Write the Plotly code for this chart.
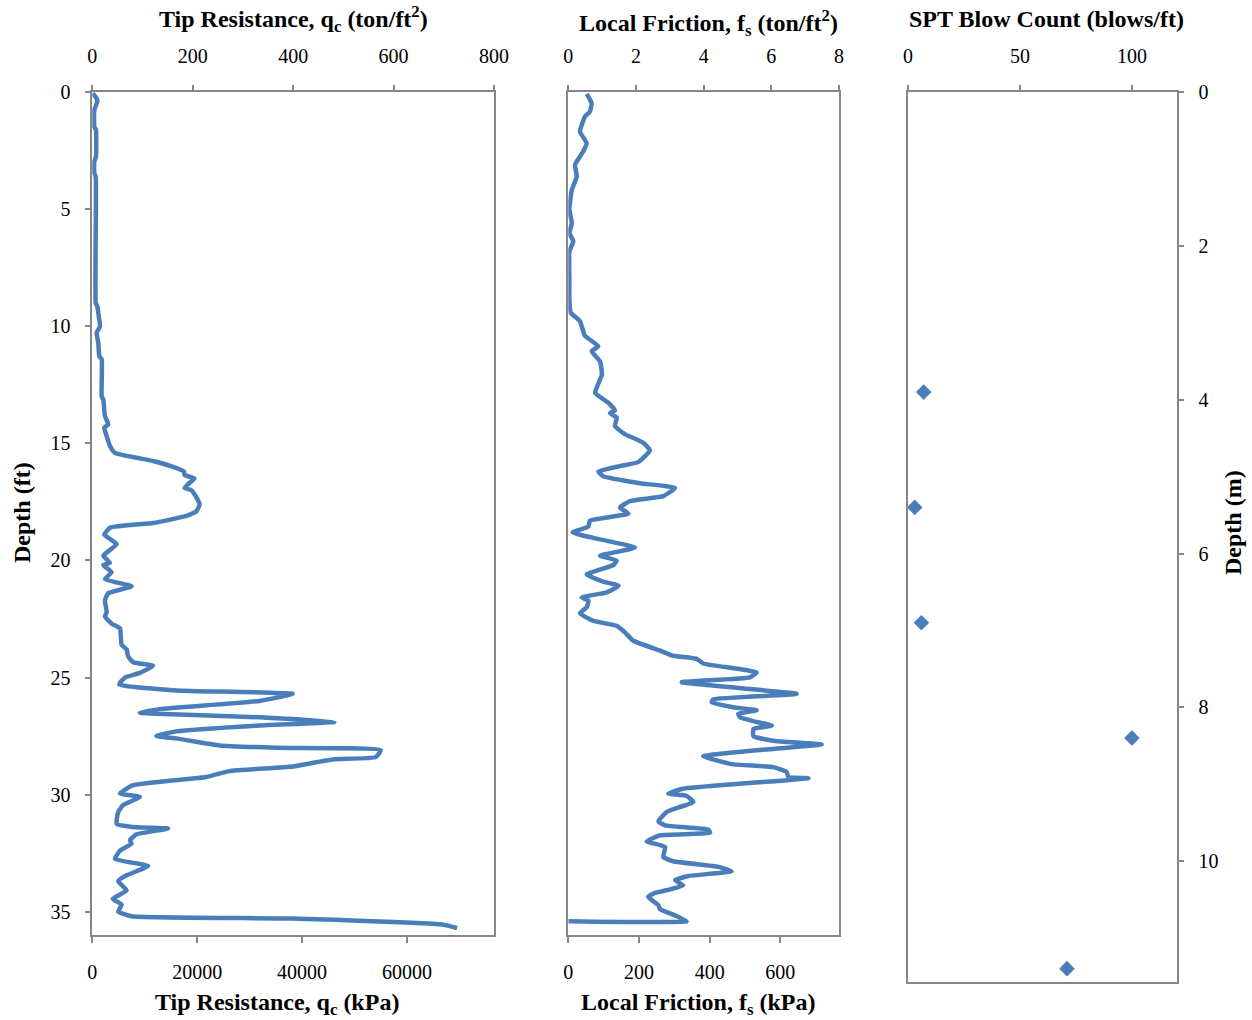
import plotly.graph_objects as go

# ---------------- data ----------------
# CPT tip resistance: depth (ft), qc (kPa)
tip_depth_ft = [0.04, 0.26, 0.4, 0.75, 1.47, 1.6, 2.75, 2.96, 3.45, 3.6, 9.0, 9.14, 9.42, 10.0, 10.28,
                10.7, 11.27, 11.4, 12.98, 13.12, 13.83, 14.19, 14.33, 14.69, 15.11, 15.4, 15.75, 16.0,
                16.2, 16.35, 16.5, 16.75, 16.9, 17.0, 17.3, 17.6, 17.9, 18.1, 18.4, 18.6, 18.9, 19.3,
                19.8, 20.1, 20.2, 20.5, 20.8, 21.1, 21.4, 21.7, 22.2, 22.4, 22.7, 22.9, 23.6, 23.8,
                24.1, 24.35, 24.5, 24.8, 25.0, 25.3, 25.55, 25.7, 26.0, 26.35, 26.5, 26.55, 26.7,
                26.9, 27.05, 27.3, 27.5, 27.6, 27.9, 28.0, 28.1, 28.4, 28.5, 28.8, 29.0, 29.25, 29.6,
                29.95, 30.1, 30.45, 30.75, 31.25, 31.4, 31.45, 31.7, 31.95, 32.1, 32.4, 32.75, 33.05,
                33.45, 33.7, 34.1, 34.45, 34.7, 35.0, 35.2, 35.3, 35.55, 35.7]
tip_qc_kpa = [80, 830, 950, 380, 380, 700, 700, 380, 380, 650, 650, 950, 1140, 1460, 830,
              1140, 1330, 1790, 1790, 2090, 2410, 3040, 2280, 2740, 3370, 4320, 11600, 15400,
              17500, 17600, 19500, 18200, 17600, 18900, 19850, 20470, 19850, 17950, 11600, 3370, 2300, 4640,
              2100, 3370, 2100, 3690, 2410, 7490, 3040, 2410, 2740, 2410, 3690, 5270, 5590, 6540,
              6840, 7790, 11600, 9070, 6220, 5100, 16040, 38200, 31880, 12870, 9070, 12240, 31880,
              46140, 31880, 16040, 12240, 16040, 24280, 35050, 55010, 54060, 45810, 38200, 26170, 21750, 7790,
              5270, 9070, 5890, 4940, 4640, 8440, 14450, 8440, 7170, 7490, 5270, 4320, 10650,
              6540, 4940, 6540, 3880, 5590, 4940, 7490, 38200, 66720, 69570]

# CPT local friction: depth (ft), fs (kPa)
fric_depth_ft = [0.07, 0.47, 0.83, 1.04, 1.68, 2.17, 2.53, 3.1, 3.6, 4.17, 5.0, 5.6, 6.0, 6.37, 6.8,
                 8.0, 8.86, 9.42, 9.78, 10.4, 10.85, 11.06, 11.5, 12.06, 12.84, 13.26, 13.6, 13.7,
                 13.9, 14.26, 14.6, 14.97, 15.3, 15.8, 15.97, 16.2, 16.4, 16.7, 16.9, 17.25, 17.46,
                 17.74, 18.0, 18.3, 18.55, 18.8, 19.1, 19.45, 19.8, 20.0, 20.2, 20.6, 20.9, 21.08,
                 21.36, 21.58, 21.72, 22.0, 22.26, 22.58, 22.79, 23.07, 23.43, 23.85, 24.07, 24.2,
                 24.4, 24.78, 24.99, 25.2, 25.7, 25.93, 26.06, 26.27, 26.4, 26.55, 26.7, 26.9,
                 27.05, 27.2, 27.5, 27.7, 27.86, 28.05, 28.36, 28.7, 28.83, 29.04, 29.25, 29.3,
                 29.54, 29.75, 29.96, 30.06, 30.32, 30.53, 30.75, 31.15, 31.32, 31.5, 31.63, 31.74,
                 32.0, 32.24, 32.67, 32.85, 33.09, 33.28, 33.48, 33.66, 33.88, 34.09, 34.2, 34.37,
                 34.73, 34.91, 35.13, 35.41, 35.41]
fric_fs_kpa = [52, 66, 61, 47, 33, 52, 42, 19, 24, 10, 3, 10, 3, 14, 3,
               3, 3, 7, 33, 47, 85, 66, 90, 95, 76, 113, 132, 118,
               137, 132, 160, 212, 231, 198, 146, 85, 99, 203, 302, 269, 175,
               146, 170, 61, 57, 12, 90, 189, 90, 137, 127, 52, 99, 142,
               109, 38, 57, 52, 33, 71, 137, 160, 184, 260, 297, 363,
               382, 533, 514, 321, 646, 410, 406, 467, 533, 481, 486, 533,
               576, 524, 524, 580, 717, 580, 382, 462, 580, 618, 623, 679,
               486, 325, 283, 335, 354, 316, 278, 255, 274, 396, 401, 260,
               222, 274, 269, 297, 425, 462, 340, 302, 325, 278, 245, 226,
               255, 260, 297, 335, 0]

# SPT: depth (m), N (blows/ft)
spt_depth_m = [3.9, 5.4, 6.9, 8.4, 11.4]
spt_n = [7, 3, 6, 100, 71]

# axis tick values
tip_kpa_ticks = [0, 20000, 40000, 60000]
tip_tsf_ticks = [0, 200, 400, 600, 800]
fric_kpa_ticks = [0, 200, 400, 600]
fric_tsf_ticks = [0, 2, 4, 6, 8]
spt_ticks = [0, 50, 100]
depth_ft_ticks = [0, 5, 10, 15, 20, 25, 30, 35]
depth_m_ticks = [0, 2, 4, 6, 8, 10]

KPA_PER_TSF = 95.76

# ---------------- styling ----------------
W, H = 1252, 1020
BLUE = "#4a7ebb"
GRAY = "#868686"
FONT = "Liberation Serif, Times New Roman, serif"
TICKFONT = dict(family=FONT, size=20, color="black")
TITLEFONT = dict(family=FONT, size=24, color="black")

def px_x(x):
    return x / W

def px_y(y):
    return 1 - y / H

p1 = [px_x(92.3), px_x(494)]
p2 = [px_x(568.3), px_x(839)]
p3 = [px_x(908), px_x(1176.7)]
y12 = [px_y(935), px_y(92.3)]
y3 = [px_y(981.7), px_y(92.3)]

fig = go.Figure()

line_style = dict(color=BLUE, width=4.5, shape="spline", smoothing=0.4)

fig.add_trace(go.Scatter(x=tip_qc_kpa, y=tip_depth_ft, mode="lines", line=line_style,
                         xaxis="x", yaxis="y", showlegend=False, name="q_c (kPa)"))
# same profile in ton/ft2 on the top scale (transparent, keeps the top axis active)
fig.add_trace(go.Scatter(x=[v / KPA_PER_TSF for v in tip_qc_kpa], y=tip_depth_ft, mode="lines",
                         line=dict(color=BLUE, width=4), opacity=0, hoverinfo="skip",
                         xaxis="x2", yaxis="y", showlegend=False))
fig.add_trace(go.Scatter(x=fric_fs_kpa, y=fric_depth_ft, mode="lines", line=line_style,
                         xaxis="x3", yaxis="y2", showlegend=False, name="f_s (kPa)"))
fig.add_trace(go.Scatter(x=[v / KPA_PER_TSF for v in fric_fs_kpa], y=fric_depth_ft, mode="lines",
                         line=dict(color=BLUE, width=4), opacity=0, hoverinfo="skip",
                         xaxis="x4", yaxis="y2", showlegend=False))
fig.add_trace(go.Scatter(x=spt_n, y=spt_depth_m, mode="markers",
                         marker=dict(symbol="diamond", size=12, color=BLUE),
                         xaxis="x5", yaxis="y3", showlegend=False, name="SPT N"))

common = dict(showgrid=False, zeroline=False, showline=True, linecolor=GRAY, linewidth=1.5,
              ticks="outside", ticklen=6, tickwidth=1.5, tickcolor=GRAY, tickfont=TICKFONT,
              automargin=False, tickformat="d")

fig.update_layout(
    width=W, height=H,
    margin=dict(l=0, r=0, t=0, b=0, autoexpand=False),
    paper_bgcolor="white", plot_bgcolor="white",
    # panel 1
    xaxis=dict(domain=p1, anchor="y", side="bottom", range=[0, 800 * KPA_PER_TSF],
               tickvals=tip_kpa_ticks, ticklabelstandoff=12, mirror=True, **common),
    xaxis2=dict(domain=p1, anchor="y", overlaying="x", side="top", range=[0, 800],
                tickvals=tip_tsf_ticks, ticklabelstandoff=14, **common),
    yaxis=dict(domain=y12, anchor="x", range=[36, 0], tickvals=depth_ft_ticks,
               ticklabelstandoff=10, mirror=True, **common),
    # panel 2
    xaxis3=dict(domain=p2, anchor="y2", side="bottom", range=[0, 8 * KPA_PER_TSF],
                tickvals=fric_kpa_ticks, ticklabelstandoff=12, mirror=True, **common),
    xaxis4=dict(domain=p2, anchor="y2", overlaying="x3", side="top", range=[0, 8],
                tickvals=fric_tsf_ticks, ticklabelstandoff=14, **common),
    yaxis2=dict(domain=y12, anchor="x3", range=[36, 0], showticklabels=False,
                showgrid=False, zeroline=False, showline=True, linecolor=GRAY, linewidth=1.5,
                ticks="", mirror=True, automargin=False),
    # panel 3
    xaxis5=dict(domain=p3, anchor="y3", side="top", range=[0, 120],
                tickvals=spt_ticks, ticklabelstandoff=14, mirror=True, **common),
    yaxis3=dict(domain=y3, anchor="x5", side="right", range=[11.57, 0],
                tickvals=depth_m_ticks, ticklabelstandoff=10, mirror=True, **common),
)

def ann(text, x, y, angle=0):
    fig.add_annotation(text=text, x=px_x(x), y=px_y(y), xref="paper", yref="paper",
                       showarrow=False, textangle=angle, font=TITLEFONT,
                       xanchor="center", yanchor="middle")

ann("<b>Tip Resistance, q<sub>c</sub> (ton/ft<sup>2</sup>)</b>", 293, 19)
ann("<b>Local Friction, f<sub>s</sub> (ton/ft<sup>2</sup>)</b>", 708, 23)
ann("<b>SPT Blow Count (blows/ft)</b>", 1046, 19)
ann("<b>Tip Resistance, q<sub>c</sub> (kPa)</b>", 277, 1004)
ann("<b>Local Friction, f<sub>s</sub> (kPa)</b>", 698, 1004)
ann("<b>Depth (ft)</b>", 22, 513, -90)
ann("<b>Depth (m)</b>", 1233, 523, -90)

fig.write_html("out.html", config={"displayModeBar": False},
               post_script="document.body.style.margin='0';")
